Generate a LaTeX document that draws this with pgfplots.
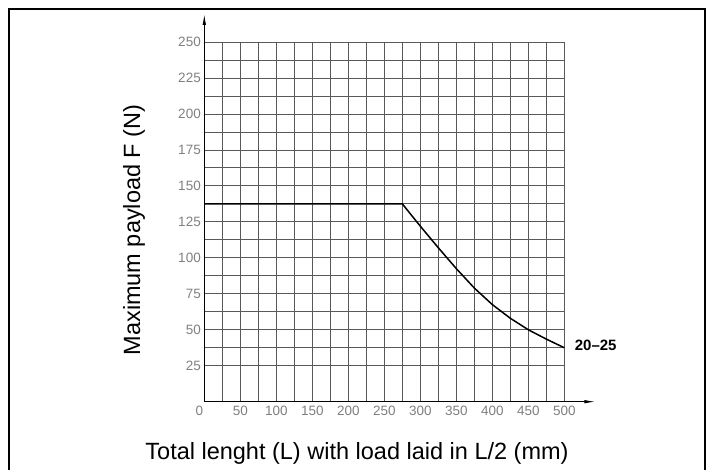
\documentclass[border=0pt]{standalone}
\usepackage{pgfplots}
\pgfplotsset{compat=1.18}
\usepackage{fontspec}
\setmainfont{Liberation Sans}
\usetikzlibrary{arrows.meta}
\begin{document}
\begin{tikzpicture}[x=1pt,y=1pt]
\useasboundingbox (0,0) rectangle (714,470);
\draw[line width=1.6pt] (9,-10) -- (9,461) -- (705,461) -- (705,-10);
\begin{axis}[
  at={(204.3pt,68.3pt)}, anchor=south west,
  scale only axis, width=360pt, height=359.7pt,
  xmin=0, xmax=500, ymin=0, ymax=250,
  axis lines=left,
  axis line style={black, line width=0.9pt},
  x axis line style={-{Latex[length=11pt,width=3.5pt]}, shorten >=-31pt},
  y axis line style={-{Latex[length=11pt,width=3.5pt]}, shorten >=-28pt},
  xtick={0,50,...,500}, ytick={25,50,...,250},
  xticklabels={\hspace{-10pt}0,50,100,150,200,250,300,350,400,450,500},
  minor x tick num=1, minor y tick num=1,
  grid=both,
  major grid style={draw=black!65, line width=0.8pt},
  minor grid style={draw=black!65, line width=0.8pt},
  major tick length=0pt, minor tick length=0pt,
  /pgf/number format/assume math mode=true,
  tick label style={font=\fontsize{13.5}{13.5}\selectfont, text=black!50},
  xticklabel style={yshift=-1pt},
  clip=false,
]
\addplot[black, line width=1.5pt] coordinates {
  (0,137.5) (275,137.5) (300,122) (325,107) (350,92.5) (375,79)
  (400,67.5) (425,58) (450,50) (475,43.5) (500,37.5)
};
\node[anchor=west, font=\bfseries\fontsize{15}{15}\selectfont, xshift=7pt] at (axis cs:500,39) {20--25};
\end{axis}
\node[rotate=90, font=\fontsize{23.5}{23.5}\selectfont] at (134,240) {Maximum payload F (N)};
\node[anchor=base, font=\fontsize{23.5}{23.5}\selectfont] at (357,10) {Total lenght (L) with load laid in L/2 (mm)};
\end{tikzpicture}
\end{document}
